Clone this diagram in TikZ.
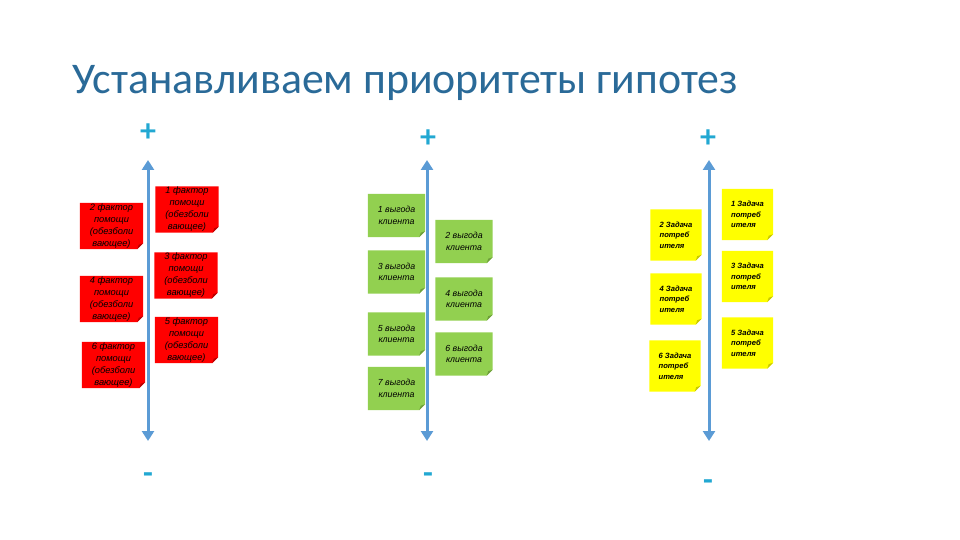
\documentclass[tikz,border=0pt]{standalone}
\usepackage{fontspec}
\setmainfont{Carlito}
\newfontfamily\notefont{Liberation Sans}
\usetikzlibrary{arrows.meta,backgrounds}
\definecolor{titleblue}{HTML}{2A6A98}
\definecolor{axisblue}{HTML}{5B9BD5}
\definecolor{signteal}{HTML}{22A8D2}
\definecolor{redfill}{HTML}{FF0000}
\definecolor{redfold}{HTML}{B80000}
\definecolor{greenfill}{HTML}{92D050}
\definecolor{greenfold}{HTML}{6E9E3A}
\definecolor{yellowfill}{HTML}{FFFF00}
\definecolor{yellowfold}{HTML}{C8C800}
\tikzset{
  notebase/.style={inner sep=0pt, align=center, text=black},
  rednote/.style={notebase, minimum width=63pt, minimum height=46pt,
    font=\notefont\itshape\fontsize{9.3}{12}\selectfont},
  greennote/.style={notebase, minimum width=57pt, minimum height=43pt,
    font=\notefont\itshape\fontsize{8.8}{11.5}\selectfont},
  yellownote/.style={notebase, align=left, minimum width=51pt, minimum height=51pt,
    font=\notefont\itshape\bfseries\fontsize{7.6}{10.5}\selectfont},
  axis/.style={axisblue, line width=3pt, {Triangle[width=12pt,length=10pt]}-{Triangle[width=12pt,length=10pt]}},
  sign/.style={text=signteal, font=\bfseries\fontsize{32}{32}\selectfont, inner sep=0pt},
}
\newcommand\stickfill[3]{%
  \fill[#2] (#1.north west) -- (#1.north east) -- ([yshift=6pt]#1.south east)
    -- ([xshift=-6pt]#1.south east) -- (#1.south west) -- cycle;
  \fill[#3] ([yshift=6pt]#1.south east) -- ([xshift=-6pt]#1.south east)
    -- ([xshift=-4.5pt,yshift=4.5pt]#1.south east) -- cycle;}
\begin{document}
\begin{tikzpicture}[x=1pt,y=-1pt]
\useasboundingbox (0,0) rectangle (960,540);

\node[anchor=base west, text=titleblue, font=\fontsize{43.8}{44}\selectfont, inner sep=0pt]
  (title) at (72,94) {Устанавливаем приоритеты гипотез};

% signs
\node[sign] (p1) at (148,133) {+};
\node[sign] (p2) at (428,139) {+};
\node[sign] (p3) at (708,139) {+};
\node[sign] (m1) at (148,478) {-};
\node[sign] (m2) at (428,478) {-};
\node[sign] (m3) at (708,485) {-};

% axes
\coordinate (t1) at (148,160); \coordinate (b1) at (148,441);
\coordinate (t2) at (427,160); \coordinate (b2) at (427,441);
\coordinate (t3) at (709,160); \coordinate (b3) at (709,441);
\draw[axis] (t1) -- (b1);
\draw[axis] (t2) -- (b2);
\draw[axis] (t3) -- (b3);

% red notes
\node[rednote] (r2) at (111.5,226) {2 фактор\\помощи\\(обезболи\\вающее)};
\node[rednote] (r4) at (111.5,299) {4 фактор\\помощи\\(обезболи\\вающее)};
\node[rednote] (r6) at (113.5,365) {6 фактор\\помощи\\(обезболи\\вающее)};
\node[rednote] (r1) at (187,209.5) {1 фактор\\помощи\\(обезболи\\вающее)};
\node[rednote] (r3) at (186,275.5) {3 фактор\\помощи\\(обезболи\\вающее)};
\node[rednote] (r5) at (186.5,340) {5 фактор\\помощи\\(обезболи\\вающее)};

% green notes
\node[greennote] (g1) at (396.5,215.5) {1 выгода\\клиента};
\node[greennote] (g3) at (396.5,272) {3 выгода\\клиента};
\node[greennote] (g5) at (396.5,334) {5 выгода\\клиента};
\node[greennote] (g7) at (396.5,388.5) {7 выгода\\клиента};
\node[greennote] (g2) at (464,241.5) {2 выгода\\клиента};
\node[greennote] (g4) at (464,299) {4 выгода\\клиента};
\node[greennote] (g6) at (464,354) {6 выгода\\клиента};

% yellow notes
\node[yellownote] (y2) at (676,235) {2 Задача\\потреб\\ителя};
\node[yellownote] (y4) at (676,299) {4 Задача\\потреб\\ителя};
\node[yellownote] (y6) at (675,366) {6 Задача\\потреб\\ителя};
\node[yellownote] (y1) at (747.5,214.5) {1 Задача\\потреб\\ителя};
\node[yellownote] (y3) at (747.5,276.5) {3 Задача\\потреб\\ителя};
\node[yellownote] (y5) at (747.5,343) {5 Задача\\потреб\\ителя};

\begin{scope}[on background layer]
  \foreach \n in {r1,r2,r3,r4,r5,r6} {\stickfill{\n}{redfill}{redfold}}
  \foreach \n in {g1,g2,g3,g4,g5,g6,g7} {\stickfill{\n}{greenfill}{greenfold}}
  \foreach \n in {y1,y2,y3,y4,y5,y6} {\stickfill{\n}{yellowfill}{yellowfold}}
\end{scope}
\end{tikzpicture}
\end{document}
